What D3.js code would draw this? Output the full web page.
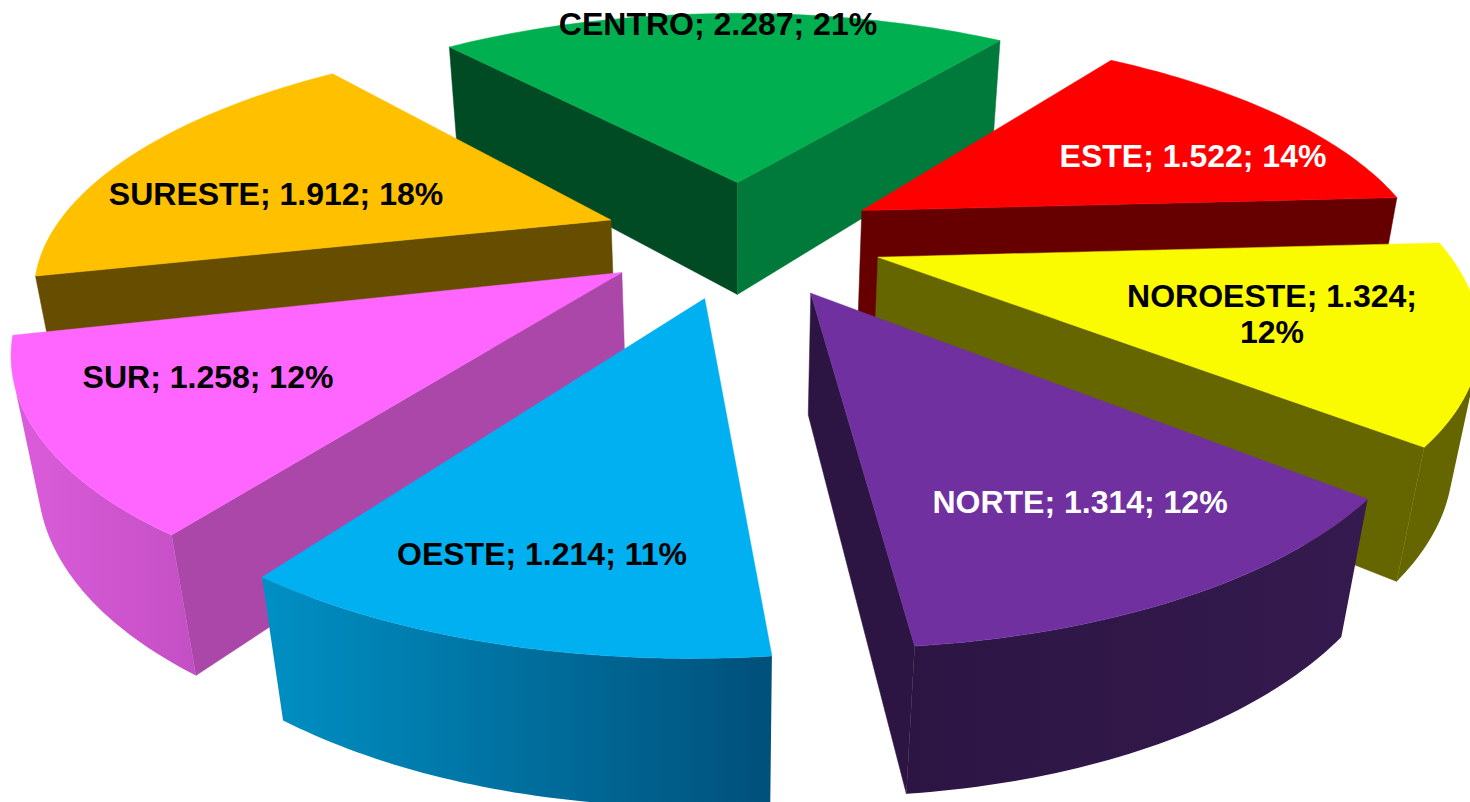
<!DOCTYPE html>
<html><head><meta charset="utf-8">
<script src="https://cdnjs.cloudflare.com/ajax/libs/d3/7.8.5/d3.min.js"></script>
<style>html,body{margin:0;padding:0;background:#fff;overflow:hidden}svg{display:block}</style>
</head><body><svg id="c" width="1470" height="802"></svg>
<script>
const categories=["CENTRO","ESTE","NOROESTE","NORTE","OESTE","SUR","SURESTE"];
const values=[2287,1522,1324,1314,1214,1258,1912];
const valueLabels=["2.287","1.522","1.324","1.314","1.214","1.258","1.912"];
const percents=[21,14,12,12,11,12,18];
const topColors=["#00B050","#FF0000","#FBFB00","#7030A0","#00B0F0","#FF66FF","#FFC000"];
const startWall=["#004A24","#660000","#666600","#2C1543","#00709A","#AB47A8","#664D00"];
const endWall=["#007A3A","#660000","#666600","#2C1543","#00709A","#AB47A8","#664D00"];
const rimA=["#007A3A","#990000","#666600","#2C1543","#0090C4","#DB5CDB","#664D00"];
const rimB=["#007A3A","#660000","#666600","#341A4E","#00507A","#C44FC4","#664D00"];
const paintOrder=["CENTRO","ESTE","SURESTE","NOROESTE","SUR","NORTE","OESTE"];
const labelLines=[[718,35],[1193,167],[1272,307],[1080,513],[542,565],[208,388],[276,205]];
const textColors=["#000","#fff","#000","#fff","#000","#000","#000"];

const cx=742,yh=-717,b=955,D=2500,A=0.913,E=154,R=615,T=0.0328,vx=737,vy=3800;
const H=1;
function project(px,py,h){
  const w=1-py/D;
  let x=cx+A*px/w,y=yh+b/w;
  if(h){const t=T/w;x+=t*(vx-x);y+=t*(vy-y);}
  return [x,y];
}
const rot=-40*Math.PI/180;
const arcs=d3.pie().sort(null).startAngle(rot).endAngle(rot+2*Math.PI)(values);
const svg=d3.select("#c");
const defs=svg.append("defs");
const line=d3.line();
const cross=(a,b,c)=>(b[0]-a[0])*(c[1]-a[1])-(b[1]-a[1])*(c[0]-a[0]);
const order=paintOrder.map(n=>categories.indexOf(n));
order.forEach(i=>{
  const a=arcs[i],mid=(a.startAngle+a.endAngle)/2;
  const ox=E*Math.sin(mid),oy=-E*Math.cos(mid);
  const N=48;
  const angs=d3.range(N+1).map(k=>a.startAngle+(a.endAngle-a.startAngle)*k/N);
  const P=(ang,h)=>project(ox+R*Math.sin(ang),oy-R*Math.cos(ang),h);
  const ap=project(ox,oy,0),ap1=project(ox,oy,H);
  const top=angs.map(t=>P(t,0)),bot=angs.map(t=>P(t,H));
  const g=svg.append("g").attr("class","slice");
  const mp=P(mid,0);
  [[top[0],bot[0],startWall[i]],[top[N],bot[N],endWall[i]]].forEach(([tp,bp,col])=>{
    if(Math.sign(cross(ap,tp,ap1))!==Math.sign(cross(ap,tp,mp))){
      g.append("path").attr("d",line([ap,tp,bp,ap1])+"Z").attr("fill",col).attr("stroke",col).attr("stroke-width",0.5);
    }
  });
  const vis=[];
  for(let k=0;k<N;k++){ if(Math.sign(cross(top[k],top[k+1],bot[k]))!==Math.sign(cross(top[k],top[k+1],ap))) vis.push(k); }
  if(vis.length){
    const k0=vis[0],k1=vis[vis.length-1]+1;
    const t=top.slice(k0,k1+1),bt=bot.slice(k0,k1+1).reverse();
    const id="rim"+i;
    const xs=t.concat(bt).map(d=>d[0]);
    const gr=defs.append("linearGradient").attr("id",id).attr("gradientUnits","userSpaceOnUse")
      .attr("x1",d3.min(xs)).attr("x2",d3.max(xs)).attr("y1",0).attr("y2",0);
    gr.append("stop").attr("offset",0).attr("stop-color",rimA[i]);
    gr.append("stop").attr("offset",1).attr("stop-color",rimB[i]);
    g.append("path").attr("d",line(t.concat(bt))+"Z").attr("fill",`url(#${id})`);
  }
  g.append("path").attr("d",line([ap].concat(top))+"Z").attr("fill",topColors[i]).attr("stroke",topColors[i]).attr("stroke-width",0.5);
});
const font="'Liberation Sans',Arial,sans-serif";
categories.forEach((c,i)=>{
  const s=`${c}; ${valueLabels[i]}; ${percents[i]}%`;
  const [x,y]=labelLines[i];
  const t=svg.append("text").attr("x",x).attr("y",y).attr("text-anchor","middle")
    .attr("font-family",font).attr("font-weight","bold").attr("font-size",32).attr("fill",textColors[i]);
  if(c==="NOROESTE"){
    t.append("tspan").attr("x",x).text(`${c}; ${valueLabels[i]};`);
    t.append("tspan").attr("x",x).attr("dy",36).text(`${percents[i]}%`);
  } else t.text(s);
});
</script></body></html>
